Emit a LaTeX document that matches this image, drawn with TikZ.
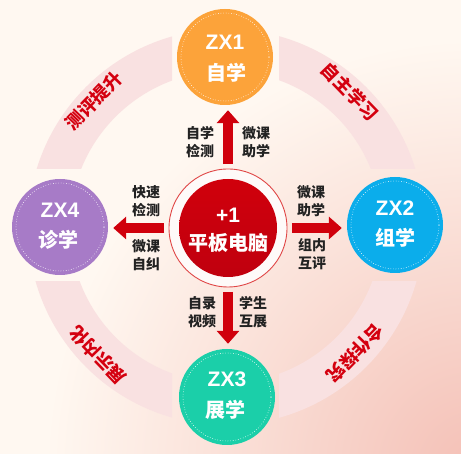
\documentclass[tikz,border=0pt]{standalone}
\usepackage{fontspec}
\setmainfont{Noto Sans CJK SC}
\newfontfamily\latinb{Liberation Sans}
\usetikzlibrary{arrows.meta}
\definecolor{creamc}{HTML}{FFF8F1}
\definecolor{pinkc}{HTML}{F4C0B6}
\definecolor{ringc}{HTML}{F9E1E1}
\definecolor{redc}{HTML}{D0000C}
\definecolor{reddark}{HTML}{C0000E}
\definecolor{ringred}{HTML}{E04848}
\definecolor{orangec}{HTML}{FCA33A}
\definecolor{bluec}{HTML}{0BADEB}
\definecolor{tealc}{HTML}{1BCFA9}
\definecolor{purplec}{HTML}{A77BC7}
\definecolor{labc}{HTML}{222222}
\definecolor{arcred}{HTML}{D4000F}
\tikzset{
  zxcircle/.style={circle, minimum size=96pt, inner sep=0pt, fill=#1},
  dotring/.style={draw=white, dotted, line width=0.6pt},
  bigarrow/.style={draw=redc, line width=10pt, -{Triangle[width=22pt,length=13pt]}, shorten <=4.5pt, shorten >=5pt},
  lab/.style={font=\bfseries\fontsize{14}{18}\selectfont, text=labc, align=center, inner sep=0pt},
  zxtext/.style={font=\bfseries\fontsize{20}{20}\selectfont, text=white, inner sep=0pt},
  zxlatin/.style={font=\latinb\bfseries\fontsize{21}{21}\selectfont, text=white, inner sep=0pt},
  arclab/.style={font=\bfseries\fontsize{18}{18}\selectfont, text=arcred, inner sep=0pt}
}
\begin{document}
\begin{tikzpicture}[x=1pt,y=1pt]
\useasboundingbox (0,0) rectangle (461,454);
% background
\fill[creamc] (0,0) rectangle (461,454);
\begin{scope}
  \clip (0,0) rectangle (461,454);
  \shade[inner color=pinkc, outer color=creamc] (475,-15) circle (430pt);
\end{scope}
% ring segments
\coordinate (rc) at (226,227);
\begin{scope}
  \clip (0,285) rectangle (172,454);
  \fill[ringc, even odd rule] (rc) circle (198pt) (rc) circle (156pt);
\end{scope}
\begin{scope}
  \clip (279,285) rectangle (461,454);
  \fill[ringc, even odd rule] (rc) circle (198pt) (rc) circle (156pt);
\end{scope}
\begin{scope}
  \clip (279,0) rectangle (461,172);
  \fill[ringc, even odd rule] (rc) circle (198pt) (rc) circle (156pt);
\end{scope}
\begin{scope}
  \clip (0,0) rectangle (172,172);
  \fill[ringc, even odd rule] (rc) circle (198pt) (rc) circle (156pt);
\end{scope}
% ring labels
\node[arclab, rotate=46] (r1) at (94,353) {测评提升};
\node[arclab, rotate=-46] (r2) at (350,362) {自主学习};
\node[arclab, rotate=-134] (r3) at (355,101) {合作探究};
\node[arclab, rotate=134] (r4) at (98,99) {展示内化};
% center
\node[circle, minimum size=118pt, inner sep=0pt, draw=ringred, line width=0.9pt, fill=white!92!pinkc] (cring) at (228,226) {};
\node[circle, minimum size=98pt, inner sep=0pt, top color=redc, bottom color=reddark] (c) at (228,226) {};
\node[zxlatin] (c1) at (228,239) {+1};
\node[zxtext] (c2) at (228,211) {平板电脑};
% satellites
\node[zxcircle=orangec] (zx1) at (225,397) {};
\node[zxcircle=bluec] (zx2) at (395,229) {};
\node[zxcircle=tealc] (zx3) at (227,57) {};
\node[zxcircle=purplec] (zx4) at (60,227) {};
\foreach \n in {zx1,zx2,zx3,zx4} {\draw[dotring] (\n.center) circle (44pt);}
\node[zxlatin] (zx1a) at (225,412) {ZX1};
\node[zxtext] (zx1b) at (226,381) {自学};
\node[zxlatin] (zx2a) at (395,246) {ZX2};
\node[zxtext] (zx2b) at (395,216) {组学};
\node[zxlatin] (zx3a) at (227,75) {ZX3};
\node[zxtext] (zx3b) at (225,44) {展学};
\node[zxlatin] (zx4a) at (60,244) {ZX4};
\node[zxtext] (zx4b) at (58,214) {诊学};
% arrows
\draw[bigarrow] (cring.north) -- (cring.north |- zx1.south);
\draw[bigarrow] (cring.east) -- (cring.east -| zx2.west);
\draw[bigarrow] (cring.south) -- (cring.south |- zx3.north);
\draw[bigarrow] (cring.west) -- (cring.west -| zx4.east);
% arrow labels
\node[lab] (l1a) at (200,312) {自学\\检测};
\node[lab] (l1b) at (256,312) {微课\\助学};
\node[lab] (l4a) at (146,253) {快速\\检测};
\node[lab] (l4b) at (146,199) {微课\\自纠};
\node[lab] (l2a) at (311,253) {微课\\助学};
\node[lab] (l2b) at (312,200) {组内\\互评};
\node[lab] (l3a) at (202,142) {自录\\视频};
\node[lab] (l3b) at (253,142) {学生\\互展};
\end{tikzpicture}
\end{document}
